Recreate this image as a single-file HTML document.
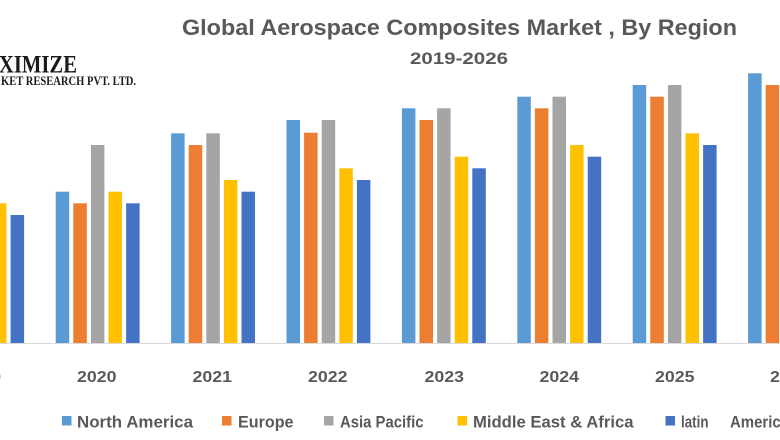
<!DOCTYPE html>
<html>
<head>
<meta charset="utf-8">
<style>
html,body{margin:0;padding:0;background:#fff;}
body{width:780px;height:440px;overflow:hidden;}
svg{display:block;}
</style>
</head>
<body>
<svg width="780" height="440" viewBox="0 0 780 440" xmlns="http://www.w3.org/2000/svg">
<rect x="0" y="0" width="780" height="440" fill="#ffffff"/>

<!-- Logo -->
<text x="-16" y="72.5" font-family="Liberation Serif, serif" font-weight="bold" font-size="25" fill="#1a1a1a" textLength="93" lengthAdjust="spacingAndGlyphs">AXIMIZE</text>
<text x="1" y="85" font-family="Liberation Serif, serif" font-weight="bold" font-size="12.5" fill="#1a1a1a" textLength="135" lengthAdjust="spacingAndGlyphs">KET RESEARCH PVT. LTD.</text>

<!-- Title -->
<text x="182" y="35" font-family="Liberation Sans, sans-serif" font-weight="bold" font-size="22" fill="#595959" textLength="555" lengthAdjust="spacingAndGlyphs">Global Aerospace Composites Market , By Region</text>
<text x="410" y="64" font-family="Liberation Sans, sans-serif" font-weight="bold" font-size="17" fill="#595959" textLength="98" lengthAdjust="spacingAndGlyphs">2019-2026</text>

<!-- Axis line -->
<rect x="0" y="343" width="780" height="1" fill="#d9d9d9"/>

<!-- Bars: width 13.5, step 17.6 within group, group step 115.4 -->
<g>
<!-- 2019 (g=-59.7) -->
<rect x="-59.7" y="180" width="13.5" height="163" fill="#5B9BD5"/>
<rect x="-42.1" y="191.7" width="13.5" height="151.3" fill="#ED7D31"/>
<rect x="-24.5" y="156.7" width="13.5" height="186.3" fill="#A5A5A5"/>
<rect x="-7.1" y="203.3" width="13.5" height="139.7" fill="#FFC000"/>
<rect x="10.6" y="215" width="13.5" height="128" fill="#4472C4"/>

<!-- 2020 (g=55.7) -->
<rect x="55.7" y="191.7" width="13.5" height="151.3" fill="#5B9BD5"/>
<rect x="73.3" y="203.3" width="13.5" height="139.7" fill="#ED7D31"/>
<rect x="90.9" y="145" width="13.5" height="198" fill="#A5A5A5"/>
<rect x="108.5" y="191.7" width="13.5" height="151.3" fill="#FFC000"/>
<rect x="126.1" y="203.3" width="13.5" height="139.7" fill="#4472C4"/>

<!-- 2021 (g=171.1) -->
<rect x="171.1" y="133.3" width="13.5" height="209.7" fill="#5B9BD5"/>
<rect x="188.7" y="145" width="13.5" height="198" fill="#ED7D31"/>
<rect x="206.3" y="133.3" width="13.5" height="209.7" fill="#A5A5A5"/>
<rect x="223.9" y="180" width="13.5" height="163" fill="#FFC000"/>
<rect x="241.5" y="191.7" width="13.5" height="151.3" fill="#4472C4"/>

<!-- 2022 (g=286.5) -->
<rect x="286.5" y="120" width="13.5" height="223" fill="#5B9BD5"/>
<rect x="304.1" y="132.7" width="13.5" height="210.3" fill="#ED7D31"/>
<rect x="321.7" y="120" width="13.5" height="223" fill="#A5A5A5"/>
<rect x="339.3" y="168.3" width="13.5" height="174.7" fill="#FFC000"/>
<rect x="356.9" y="180" width="13.5" height="163" fill="#4472C4"/>

<!-- 2023 (g=401.9) -->
<rect x="401.9" y="108.3" width="13.5" height="234.7" fill="#5B9BD5"/>
<rect x="419.5" y="120" width="13.5" height="223" fill="#ED7D31"/>
<rect x="437.1" y="108.3" width="13.5" height="234.7" fill="#A5A5A5"/>
<rect x="454.7" y="156.7" width="13.5" height="186.3" fill="#FFC000"/>
<rect x="472.3" y="168.3" width="13.5" height="174.7" fill="#4472C4"/>

<!-- 2024 (g=517.3) -->
<rect x="517.3" y="96.7" width="13.5" height="246.3" fill="#5B9BD5"/>
<rect x="534.9" y="108.3" width="13.5" height="234.7" fill="#ED7D31"/>
<rect x="552.5" y="96.7" width="13.5" height="246.3" fill="#A5A5A5"/>
<rect x="570.1" y="145" width="13.5" height="198" fill="#FFC000"/>
<rect x="587.7" y="156.7" width="13.5" height="186.3" fill="#4472C4"/>

<!-- 2025 (g=632.7) -->
<rect x="632.7" y="85" width="13.5" height="258" fill="#5B9BD5"/>
<rect x="650.3" y="96.7" width="13.5" height="246.3" fill="#ED7D31"/>
<rect x="667.9" y="85" width="13.5" height="258" fill="#A5A5A5"/>
<rect x="685.5" y="133.3" width="13.5" height="209.7" fill="#FFC000"/>
<rect x="703.1" y="145" width="13.5" height="198" fill="#4472C4"/>

<!-- 2026 (g=748.1) -->
<rect x="748.1" y="73.3" width="13.5" height="269.7" fill="#5B9BD5"/>
<rect x="765.7" y="85" width="13.5" height="258" fill="#ED7D31"/>
</g>

<!-- Year labels -->
<g font-family="Liberation Sans, sans-serif" font-weight="bold" font-size="16" fill="#595959">
<text x="-38.5" y="382" textLength="39.5" lengthAdjust="spacingAndGlyphs">2019</text>
<text x="77" y="382" textLength="39.5" lengthAdjust="spacingAndGlyphs">2020</text>
<text x="192.5" y="382" textLength="39.5" lengthAdjust="spacingAndGlyphs">2021</text>
<text x="308" y="382" textLength="39.5" lengthAdjust="spacingAndGlyphs">2022</text>
<text x="424.5" y="382" textLength="39.5" lengthAdjust="spacingAndGlyphs">2023</text>
<text x="539.5" y="382" textLength="39.5" lengthAdjust="spacingAndGlyphs">2024</text>
<text x="655" y="382" textLength="39.5" lengthAdjust="spacingAndGlyphs">2025</text>
<text x="770" y="382" textLength="39.5" lengthAdjust="spacingAndGlyphs">2026</text>
</g>

<!-- Legend -->
<rect x="62" y="416" width="9.5" height="9.5" fill="#5B9BD5"/>
<rect x="222" y="416" width="9.5" height="9.5" fill="#ED7D31"/>
<rect x="324" y="416" width="9.5" height="9.5" fill="#A5A5A5"/>
<rect x="457.5" y="416" width="9.5" height="9.5" fill="#FFC000"/>
<rect x="665.5" y="416" width="9.5" height="9.5" fill="#4472C4"/>
<g font-family="Liberation Sans, sans-serif" font-weight="bold" font-size="16.5" fill="#595959">
<text x="77" y="427.5" textLength="116" lengthAdjust="spacingAndGlyphs">North America</text>
<text x="238" y="427.5" textLength="55.5" lengthAdjust="spacingAndGlyphs">Europe</text>
<text x="340" y="427.5" textLength="83.5" lengthAdjust="spacingAndGlyphs">Asia Pacific</text>
<text x="473" y="427.5" textLength="160.5" lengthAdjust="spacingAndGlyphs">Middle East &amp; Africa</text>
<text x="681" y="427.5" textLength="27.5" lengthAdjust="spacingAndGlyphs">latin</text>
<text x="730" y="427.5" textLength="59" lengthAdjust="spacingAndGlyphs">America</text>
</g>
</svg>
</body>
</html>
